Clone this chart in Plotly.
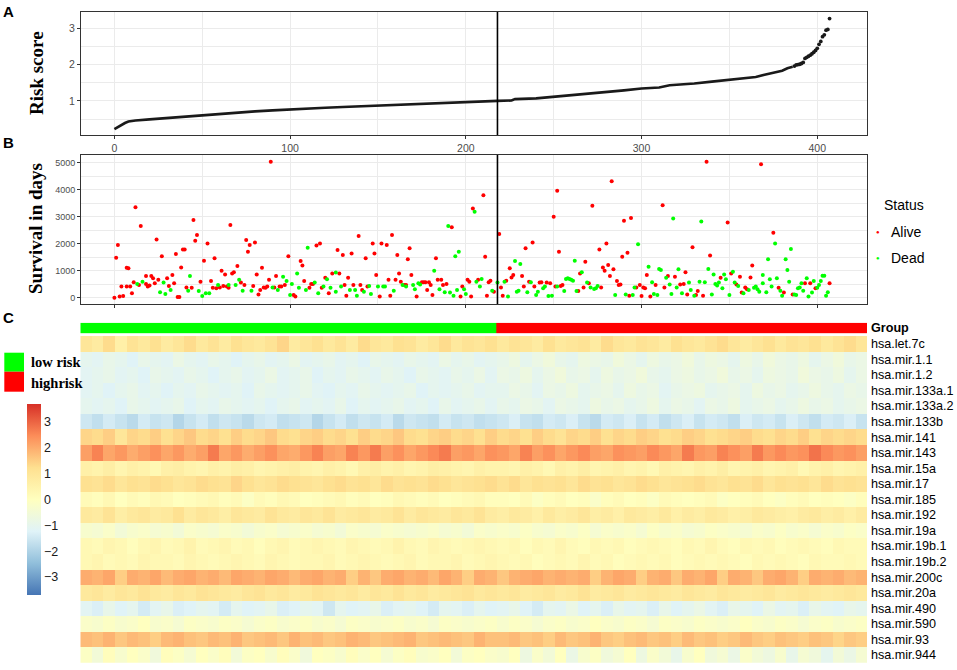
"""
Risk score / survival / miRNA heatmap panel (A, B, C) rebuilt in plotly.
"""

import plotly.graph_objects as go

W, H = 957, 670

# === A: sorted risk score ===
risk_idx = [0, 1, 2, 4, 6, 8, 10, 12, 20, 30, 40, 50, 60, 70, 80, 90, 100, 110, 120, 130,
            140, 150, 160, 170, 180, 190, 200, 210, 218, 226, 228, 240, 250, 260, 270, 280,
            290, 300, 310, 316, 320, 330, 340, 350, 355, 360, 365, 370, 375, 380, 383, 386]
risk_score = [0.22, 0.25, 0.28, 0.33, 0.39, 0.43, 0.45, 0.46, 0.49, 0.53, 0.57, 0.61, 0.65,
              0.68, 0.71, 0.74, 0.77, 0.79, 0.81, 0.83, 0.85, 0.87, 0.90, 0.92, 0.94, 0.96,
              0.98, 0.99, 1.00, 1.01, 1.05, 1.07, 1.11, 1.16, 1.21, 1.25, 1.29, 1.34, 1.37,
              1.43, 1.44, 1.48, 1.53, 1.59, 1.62, 1.63, 1.66, 1.72, 1.78, 1.83, 1.90, 1.94]
risk_tail_idx = [387, 388, 389, 390, 391, 392, 393, 394, 395, 396, 397, 398, 399, 400, 401,
                 402, 403, 404, 405, 406, 407]
risk_tail_score = [1.96, 1.99, 2.00, 2.01, 2.03, 2.06, 2.17, 2.20, 2.23, 2.26, 2.30, 2.34,
                   2.39, 2.45, 2.56, 2.64, 2.77, 2.82, 2.95, 2.97, 3.27]
cutoff = 218

# === B: survival time by status ===
alive_idx = [0, 1, 2, 3, 4, 5, 7, 7, 8, 9, 10, 11, 12, 14, 15, 18, 18, 19, 20, 21,
             22, 23, 24, 25, 27, 30, 31, 33, 34, 35, 36, 37, 38, 39, 40, 41, 44, 45, 46, 47,
             49, 51, 53, 55, 56, 57, 58, 60, 61, 62, 63, 64, 65, 66, 67, 68, 70, 72, 74, 75,
             76, 77, 79, 80, 81, 82, 83, 84, 85, 86, 87, 88, 89, 91, 92, 94, 95, 97, 99, 102,
             103, 106, 107, 108, 111, 112, 113, 115, 117, 118, 120, 122, 124, 127, 128, 130,
             131, 132, 133, 135, 136, 139, 140, 141, 143, 144, 147, 148, 149, 151, 152, 155,
             156, 157, 158, 160, 161, 162, 163, 165, 166, 167, 168, 169, 172, 175, 176, 177,
             178, 179, 180, 181, 183, 184, 186, 187, 189, 192, 197, 198, 201, 202, 203, 204,
             207,
             210, 211, 212, 213, 214, 216, 219, 220, 221, 223, 225, 226, 227, 232, 233, 234,
             236, 238, 239, 242, 243, 246, 248, 250, 251, 252, 253, 254, 255, 264, 265, 267,
             268, 270, 272, 276, 277, 278, 279, 280, 281, 282, 283, 284, 286, 287, 288, 289,
             290, 292, 293, 294, 297, 299, 300, 301, 302, 303, 305, 308, 312, 313, 315, 319,
             322, 324, 325, 326, 329, 331, 332, 335, 337, 339, 345, 349, 351, 354, 356, 357,
             359, 360, 362, 363, 368, 375, 378, 381, 386, 393, 396, 399, 407]
alive_days = [0, 1480, 1950, 40, 410, 60, 410, 1110, 1090, 410, 160, 570, 3350, 470, 2660,
              510, 800, 410, 450, 800, 720, 530, 2160, 660, 1540, 720, 430, 840, 530, 1620,
              20, 20, 1120, 1790, 1790, 380, 370, 2880, 2110, 2320, 590, 1370, 2010, 620, 370,
              1460, 350, 380, 1000, 430, 860, 410, 370, 2690, 900, 940, 1170, 560, 470, 2140,
              1700, 1950, 430, 2050, 860, 120, 280, 1110, 380, 370, 410, 660, 5040, 380, 800,
              410, 410, 470, 1540, 100, 40, 1360, 1190, 620, 370, 510, 510, 1930, 2010, 370,
              740, 160, 900, 1770, 900, 1580, 470, 70, 740, 1640, 470, 2290, 470, 280, 1460,
              410, 2010, 1640, 840, 40, 2010, 1950, 660, 70, 2320, 660, 1580, 900, 590, 470,
              470, 1420, 1830, 840, 40, 570, 570, 570, 280, 570, 470, 100, 1460, 660, 660,
              470, 510, 2610, 40, 410, 660, 590, 40, 3310, 660,
              3800, 1520, 70, 570, 630, 220, 2360, 380, 70, 630, 1090, 750, 840, 800, 410,
              1830, 590, 2050, 410, 560, 570, 560, 530, 3000, 410, 3960, 1700, 430, 470, 250,
              900, 380, 1330, 530, 3410, 1790, 380, 1120, 1000, 2010, 1210, 800, 4320, 1050,
              620, 470, 490, 1520, 2850, 1670, 70, 2950, 380, 470, 60, 380, 350, 840, 40, 470,
              3430, 380, 800, 780, 490, 510, 940, 120, 1870, 100, 250, 70, 5040, 1560, 740,
              2790, 900, 490, 780, 190, 380, 310, 750, 1190, 4950, 2410, 370, 190, 120, 530,
              530, 350, 530]
dead_idx = [13, 16, 26, 28, 29, 32, 42, 43, 48, 50, 52, 54, 59, 65, 69, 71, 73, 78, 90, 93,
            96, 98, 100, 101, 104, 105, 109, 110, 114, 116, 119, 121, 123, 126, 126, 129,
            134, 137, 138, 142, 145, 146, 150, 153, 154, 159, 164, 166, 170, 171, 173, 174,
            182, 185, 188, 190, 191, 193, 194, 195, 196, 199, 200, 205, 206, 208,
            209, 215, 218, 222, 224, 228, 229, 230, 231, 235, 237, 240, 241, 244, 245, 247,
            249, 252, 256, 257, 258, 259, 260, 261, 262, 263, 266, 269, 271, 273, 274, 275,
            285, 291, 295, 296, 298, 304, 306, 307, 309, 310, 311, 314, 316, 317, 318, 320,
            321, 323, 327, 328, 330, 333, 334, 336, 338, 340, 341, 342, 343, 344, 346, 347,
            348, 350, 352, 353, 355, 358, 361, 364, 365, 366, 367, 369, 369, 371, 372, 373,
            374, 376, 377, 379, 380, 382, 383, 384, 385, 387, 388, 389, 390, 391, 392, 394,
            395, 397, 398, 400, 401, 402, 403, 404, 405, 406]
dead_days = [510, 590, 200, 560, 140, 280, 260, 800, 250, 60, 160, 160, 470, 470, 470, 660,
             260, 260, 380, 280, 780, 620, 100, 510, 900, 370, 280, 1850, 560, 160, 410, 680,
             370, 220, 930, 410, 280, 280, 70, 220, 430, 140, 410, 410, 410, 260, 470, 410,
             470, 310, 530, 490, 1000, 310, 200, 2660, 190, 70, 1540, 280, 1700, 310, 140,
             3190, 590, 410,
             690, 260, 560, 590, 40, 1360, 220, 260, 1250, 200, 570, 100, 220, 350, 410, 60,
             70, 410, 250, 690, 720, 690, 660, 630, 1370, 250, 940, 560, 380, 320, 350, 430,
             100, 120, 100, 380, 1980, 1150, 570, 140, 100, 1060, 1030, 740, 490, 140, 2940,
             380, 1050, 160, 560, 280, 70, 590, 2820, 570, 1060, 120, 860, 510, 450, 560, 350,
             860, 680, 100, 960, 560, 430, 160, 280, 370, 410, 310, 220, 840, 530, 200, 1420,
             680, 410, 2010, 720, 260, 70, 1420, 1030, 590, 1800, 120, 100, 350, 380, 530,
             260, 720, 40, 190, 620, 370, 470, 620, 810, 810, 70, 200]

# === C: expression heatmap (each value = a block of 6 adjacent samples) ===
n_low = 216
n_high = 192
mirnas = ["hsa.let.7c", "hsa.mir.1.1", "hsa.mir.1.2", "hsa.mir.133a.1", "hsa.mir.133a.2",
          "hsa.mir.133b", "hsa.mir.141", "hsa.mir.143", "hsa.mir.15a", "hsa.mir.17",
          "hsa.mir.185", "hsa.mir.192", "hsa.mir.19a", "hsa.mir.19b.1", "hsa.mir.19b.2",
          "hsa.mir.200c", "hsa.mir.20a", "hsa.mir.490", "hsa.mir.590", "hsa.mir.93",
          "hsa.mir.944"]

let_7c = [1.0, .8, 1.3, .6, 1.1, .9, 1.2, .8, 1.0, 1.3, .9, 1.1, .8, 1.2, 1.0, .9, 1.1, 1.4,
          .8, 1.0, 1.2, .9, 1.1, .8, 1.3, 1.0, .9, 1.2, 1.1, .8, 1.0, 1.3, .9, 1.1, 1.0, 1.2,
          .9, 1.1, 1.0, .8, 1.2, .9, 1.0, 1.1, .8, 1.3, 1.0, .9, 1.1, 1.0, .8, 1.2, 1.0, .9,
          1.1, 1.3, 1.0, .8, 1.0, 1.2, .9, 1.1, 1.0, 1.2, .9, 1.1, 1.3, 1.0]
mir_1_1 = [-1.0, -1.1, -.9, -1.0, -1.2, -.9, -1.0, -1.1, -.8, -1.0, -1.1, -.9, -1.0, -1.2,
           -1.0, -.9, -1.1, -1.0, -.8, -1.1, -1.0, -.9, -1.1, -1.0, -1.2, -.9, -1.0, -1.1,
           -.9, -1.0, -1.1, -.8, -1.0, -.9, -1.1, -1.0,
           -.9, -.7, -1.0, -.8, -.6, -.9, -1.0, -.7, -.8, -.9, -.6, -.8, -1.0, -.7, -.9, -.8,
           -.6, -.9, -.7, -.8, -1.0, -.7, -.9, -.6, -.8, -.9, -.7, -1.0, -.8, -.6, -.9, -.8]
mir_1_2 = [-1.1, -1.0, -.9, -1.1, -1.0, -1.2, -.9, -1.0, -1.1, -.9, -1.0, -1.2, -1.0, -.9,
           -1.1, -1.0, -.8, -1.1, -1.0, -.9, -1.2, -1.0, -1.1, -.9, -1.0, -1.1, -.9, -1.0,
           -1.2, -.9, -1.0, -1.1, -.9, -1.0, -.8, -1.1,
           -.8, -.9, -.7, -1.0, -.8, -.6, -.9, -.8, -1.0, -.7, -.9, -.8, -.6, -.9, -1.0, -.8,
           -.7, -.9, -.8, -.6, -.9, -.8, -1.0, -.7, -.8, -.9, -.6, -.8, -.9, -.7, -1.0, -.8]
mir_133a_1 = [-1.1, -1.0, -1.2, -1.0, -.9, -1.1, -1.0, -1.2, -1.0, -1.1, -.9, -1.0, -1.1,
              -1.0, -1.2, -.9, -1.0, -1.1, -1.0, -.9, -1.1, -1.2, -1.0, -1.1, -.9, -1.0,
              -1.1, -1.0, -.9, -1.2, -1.0, -1.1, -1.0, -.9, -1.1, -1.0,
              -1.0, -.8, -.9, -1.1, -.8, -.9, -.7, -1.0, -.9, -.8, -1.0, -.7, -.9, -.8, -1.1,
              -.9, -.8, -.7, -1.0, -.9, -.8, -1.0, -.7, -.9, -.8, -1.0, -.9, -.7, -.9, -1.0,
              -.8, -.9]
mir_133a_2 = [-1.0, -1.1, -1.0, -1.2, -.9, -1.0, -1.1, -1.0, -.9, -1.2, -1.0, -1.1, -.9,
              -1.0, -1.1, -1.0, -1.2, -1.0, -.9, -1.1, -1.0, -1.1, -.9, -1.2, -1.0, -1.1,
              -1.0, -.9, -1.1, -1.0, -1.2, -.9, -1.1, -1.0, -.9, -1.1,
              -.9, -1.0, -.8, -.9, -1.1, -.8, -.9, -1.0, -.7, -.9, -.8, -1.0, -.9, -.7, -1.0,
              -.8, -.9, -1.1, -.8, -.9, -.7, -1.0, -.9, -.8, -1.0, -.9, -.7, -.9, -.8, -1.0,
              -.9, -.8]
mir_133b = [-1.5, -1.7, -1.4, -1.6, -1.8, -1.4, -1.6, -1.5, -1.9, -1.6, -1.4, -1.7, -1.5,
            -1.6, -1.8, -1.5, -1.4, -1.7, -1.6, -1.5, -1.9, -1.6, -1.4, -1.7, -1.5, -1.6,
            -1.4, -1.8, -1.5, -1.6, -1.7, -1.4, -1.6, -1.5, -1.7, -1.6,
            -1.5, -1.3, -1.6, -1.7, -1.4, -1.5, -1.3, -1.6, -1.8, -1.4, -1.5, -1.3, -1.6,
            -1.4, -1.7, -1.5, -1.3, -1.6, -1.4, -1.5, -1.7, -1.3, -1.5, -1.4, -1.6, -1.3,
            -1.5, -1.7, -1.4, -1.5, -1.3, -1.6]
mir_141 = [1.4, 1.3, 1.5, 1.0, 1.4, 1.3, 1.5, 1.2, 1.4, 1.6, 1.3, 1.4, 1.2, 1.5, 1.3, 1.4,
           1.6, 1.3, 1.2, 1.4, 1.5, 1.3, 1.4, 1.2, 1.5, 1.3, 1.4, 1.6, 1.3, 1.2, 1.4, 1.5,
           1.3, 1.4, 1.2, 1.5,
           1.3, 1.4, 1.2, 1.5, 1.3, 1.1, 1.4, 1.3, 1.5, 1.2, 1.4, 1.3, 1.5, 1.4, 1.2, 1.3,
           1.5, 1.4, 1.2, 1.3, 1.4, 1.5, 1.3, 1.2, 1.4, 1.3, 1.5, 1.2, 1.4, 1.3, 1.4, 1.3]
mir_143 = [2.2, 2.6, 2.1, 2.3, 2.0, 2.2, 2.4, 2.1, 2.3, 2.0, 2.2, 2.7, 2.1, 2.3, 2.0, 2.2,
           2.4, 2.1, 2.0, 2.3, 2.6, 2.2, 2.1, 2.6, 2.3, 2.7, 2.2, 2.4, 2.1, 2.3, 2.5, 2.7,
           2.2, 2.3, 2.1, 2.4,
           2.3, 2.1, 2.6, 2.2, 2.4, 2.1, 2.3, 2.5, 2.2, 2.1, 2.4, 2.3, 2.2, 2.5, 2.3, 2.1,
           2.7, 2.3, 2.2, 2.6, 2.4, 2.2, 2.7, 2.3, 2.5, 2.3, 2.4, 2.8, 2.5, 2.3, 2.4, 2.2]
mir_15a = [.6, .5, .7, .4, .6, .5, .3, .6, .7, .5, .4, .6, .5, .7, .6, .4, .5, .6, .7, .5,
           .4, .6, .5, .3, .6, .7, .5, .6, .4, .5, .7, .6, .5, .4, .6, .5,
           .5, .4, .6, .5, .3, .6, .5, .7, .4, .5, .6, .4, .5, .3, .6, .5, .4, .6, .5, .7,
           .4, .5, .6, .4, .5, .6, .3, .5, .6, .4, .5, .6]
mir_17 = [1.2, 1.1, 1.3, 1.0, 1.2, 1.1, 1.3, 1.2, 1.0, 1.1, 1.3, 1.2, 1.1, 1.4, 1.2, 1.0,
          1.1, 1.3, 1.2, 1.1, 1.0, 1.2, 1.3, 1.1, 1.2, 1.0, 1.3, 1.1, 1.2, 1.1, 1.3, 1.2,
          1.0, 1.1, 1.2, 1.3,
          1.1, 1.3, 1.0, 1.2, 1.1, 1.2, 1.0, 1.3, 1.1, 1.2, 1.0, 1.1, 1.3, 1.2, 1.0, 1.1,
          1.2, 1.3, 1.1, 1.0, 1.2, 1.1, 1.3, 1.0, 1.2, 1.1, 1.2, 1.0, 1.3, 1.1, 1.2, 1.1]
mir_185 = [.2, .1, .3, .0, .2, .1, .3, .2, .0, .1, .2, .3, .1, .2, -.1, .2, .1, .3, .2, .0,
           .1, .2, .3, .1, .2, .0, .1, .3, .2, .1, .2, .0, .1, .2, .3, .1,
           .1, .0, .2, -.1, .1, .2, .0, .1, -.2, .1, .2, .0, .1, -.1, .2, .1, .0, .1, .2,
           -.1, .0, .1, .2, .0, -.1, .1, .2, .0, .1, .0, -.1, .1]
mir_192 = [.9, .8, 1.1, .7, .9, 1.0, .8, .9, 1.2, .8, 1.0, .9, .7, 1.0, .9, .8, 1.1, .9,
           .8, 1.0, .9, 1.1, .8, .9, 1.0, .8, .9, 1.1, .8, 1.0, .9, .8, 1.0, .9, 1.1, .8,
           .7, .9, .8, .6, .9, .7, .8, 1.0, .7, .8, .6, .9, .8, .7, .9, .6, .8, .7, .9, .8,
           .6, .7, .9, .8, .7, .6, .8, .9, .7, .8, .6, .8]
mir_19a = [-.3, -.4, -.2, -.5, -.3, -.2, -.4, -.3, -.5, -.2, -.3, -.4, -.2, -.3, -.5, -.3,
           -.2, -.4, -.3, -.2, -.4, -.3, -.5, -.2, -.3, -.4, -.2, -.3, -.4, -.3, -.2, -.4,
           -.3, -.5, -.2, -.3,
           -.2, -.3, -.1, -.3, -.4, -.2, -.3, -.1, -.4, -.2, -.3, -.2, -.4, -.1, -.3, -.2,
           -.4, -.3, -.1, -.2, -.3, -.4, -.2, -.3, -.1, -.3, -.2, -.4, -.2, -.3, -.1, -.2]
mir_19b_1 = [.3, .2, .4, .3, .1, .3, .4, .2, .3, .5, .2, .3, .4, .2, .3, .1, .3, .4, .2,
             .3, .4, .3, .2, .4, .3, .2, .3, .5, .3, .2, .4, .3, .2, .3, .4, .3,
             .2, .3, .1, .3, .2, .4, .2, .1, .3, .2, .3, .1, .2, .3, .2, .1, .3, .2, .4,
             .2, .1, .3, .2, .3, .1, .2, .3, .2, .1, .3, .2, .2]
mir_19b_2 = [.3, .4, .2, .3, .2, .4, .3, .3, .2, .4, .3, .2, .3, .4, .3, .2, .4, .3, .2,
             .3, .3, .4, .2, .3, .4, .3, .2, .3, .4, .2, .3, .3, .4, .2, .3, .4,
             .3, .2, .3, .1, .2, .3, .2, .4, .2, .3, .1, .2, .3, .2, .3, .1, .2, .3, .2,
             .3, .2, .1, .3, .2, .3, .2, .1, .3, .2, .2, .3, .2]
mir_200c = [2.0, 1.9, 2.1, 1.5, 2.0, 1.9, 2.1, 1.8, 2.0, 2.1, 1.9, 2.0, 1.8, 2.1, 2.0, 1.9,
            2.1, 2.0, 1.8, 2.0, 2.1, 1.9, 2.0, 1.5, 1.9, 1.6, 2.0, 2.1, 1.9, 2.0, 1.8, 2.1,
            1.9, 1.5, 2.0, 1.9,
            1.6, 1.9, 2.0, 2.1, 1.9, 2.0, 1.9, 2.0, 1.5, 1.9, 2.1, 2.0, 1.5, 1.9, 2.0, 1.6,
            2.0, 1.9, 2.1, 1.5, 2.0, 1.9, 1.6, 2.0, 2.1, 1.9, 1.5, 2.0, 1.9, 2.0, 1.8, 1.9]
mir_20a = [.9, 1.0, .8, 1.0, .9, 1.1, .9, .8, 1.0, .9, 1.1, 1.0, .9, .8, 1.0, 1.1, .9, 1.0,
           .8, .9, 1.1, 1.0, .9, 1.0, .8, 1.0, .9, 1.1, .9, 1.0, .8, .9, 1.0, 1.1, .9, 1.0,
           .9, 1.0, .8, .9, 1.0, .8, .9, 1.1, .8, .9, 1.0, .8, .9, 1.0, .9, .8, 1.0, .9, .8,
           1.0, .9, .8, .9, 1.0, .8, .9, 1.0, .9, .8, .9, 1.0, .9]
mir_490 = [-1.1, -1.3, -.9, -1.2, -1.0, -1.4, -1.1, -.9, -1.3, -1.2, -1.0, -1.1, -1.4, -1.0,
           -1.2, -1.1, -.9, -1.3, -1.2, -1.0, -1.1, -1.5, -1.0, -1.2, -1.1, -.9, -1.3, -1.1,
           -1.0, -1.2, -1.4, -1.0, -1.1, -1.3, -1.0, -1.2,
           -1.1, -.9, -1.2, -1.4, -1.0, -1.1, -.8, -1.2, -1.0, -1.3, -.9, -1.1, -1.0, -1.3,
           -.9, -1.2, -1.0, -.8, -1.1, -1.3, -.9, -1.0, -1.2, -.8, -1.1, -1.0, -1.3, -.9,
           -1.1, -1.2, -.9, -1.0]
mir_590 = [-.2, -.3, -.1, -.3, -.2, .0, -.3, -.2, -.4, -.1, -.2, -.3, -.1, -.2, -.4, -.2,
           -.1, -.3, -.2, -.1, -.3, -.2, -.4, -.1, -.2, -.3, -.2, -.1, -.3, -.2, -.4, -.1,
           -.2, -.3, -.2, -.1,
           -.3, -.1, -.2, -.4, -.2, -.1, -.3, -.2, .0, -.2, -.3, -.1, -.2, -.4, -.1, -.2,
           -.3, -.1, -.2, -.3, -.2, .0, -.2, -.3, -.1, -.2, -.4, -.2, -.1, -.3, -.2, -.1]
mir_93 = [1.8, 1.7, 1.9, 1.6, 1.8, 1.7, 1.5, 1.8, 1.9, 1.7, 1.6, 1.8, 1.7, 1.9, 1.6, 1.7,
          1.8, 1.6, 1.9, 1.7, 1.8, 1.6, 1.7, 1.9, 1.8, 1.6, 1.7, 1.8, 1.9, 1.6, 1.7, 1.8,
          1.7, 1.6, 1.9, 1.7,
          1.7, 1.8, 1.6, 1.7, 1.5, 1.8, 1.6, 1.7, 1.9, 1.6, 1.5, 1.7, 1.8, 1.6, 1.7, 1.5,
          1.8, 1.6, 1.7, 1.5, 1.6, 1.8, 1.6, 1.5, 1.7, 1.6, 1.5, 1.7, 1.6, 1.4, 1.6, 1.5]
mir_944 = [-.1, -.5, .1, -.3, .0, -.2, -.6, .1, -.1, -.4, .0, -.2, .1, -.5, -.1, .0, -.3,
           .1, -.2, -.6, .0, -.1, -.3, .1, -.2, .0, -.4, -.1, .1, -.3, -.2, .0, -.5, -.1,
           .0, -.2,
           -.3, .0, -.7, -.2, -.5, .0, -.8, -.3, -.1, -.6, -.4, .0, -.7, -.2, -.5, -.9, -.3,
           .0, -.6, -.4, -.8, -.2, -.5, -.7, -.3, -.9, -.4, -.6, -1.0, -.5, -.8, -.4]

expr = [let_7c, mir_1_1, mir_1_2, mir_133a_1, mir_133a_2, mir_133b, mir_141, mir_143,
        mir_15a, mir_17, mir_185, mir_192, mir_19a, mir_19b_1, mir_19b_2, mir_200c,
        mir_20a, mir_490, mir_590, mir_93, mir_944]


def px(x):
    return x / W


def py(y):
    return 1 - y / H


SANS = "Liberation Sans, Arial, sans-serif"
SERIF = "Liberation Serif, Times New Roman, serif"
GRID = "#EBEBEB"
ALIVE = "#FF0000"
DEAD = "#00FF00"
RDYLBU = [[0.0, "#4575B4"], [1 / 6, "#91BFDB"], [2 / 6, "#E0F3F8"], [3 / 6, "#FFFFBF"],
          [4 / 6, "#FEE090"], [5 / 6, "#FC8D59"], [1.0, "#D73027"]]

n_total = n_low + n_high
block = n_total / len(let_7c)

fig = go.Figure()

# === A ===
fig.add_trace(go.Scatter(
    x=risk_idx, y=risk_score, mode="lines",
    line=dict(color="#1A1A1A", width=2.6),
    xaxis="x", yaxis="y",
))
fig.add_trace(go.Scatter(
    x=risk_tail_idx, y=risk_tail_score, mode="markers",
    marker=dict(color="#1A1A1A", size=3.8),
    xaxis="x", yaxis="y",
))

# === B ===
fig.add_trace(go.Scatter(
    x=alive_idx, y=alive_days, mode="markers", name="Alive",
    marker=dict(color=ALIVE, size=4),
    xaxis="x2", yaxis="y2",
))
fig.add_trace(go.Scatter(
    x=dead_idx, y=dead_days, mode="markers", name="Dead",
    marker=dict(color=DEAD, size=4),
    xaxis="x2", yaxis="y2",
))

# === C: group bar + heatmap ===
fig.add_trace(go.Heatmap(
    z=[[0, 1]], x=[0.5, n_low + 0.5, n_total + 0.5], y=["Group"],
    colorscale=[[0, DEAD], [1, ALIVE]], showscale=False,
    hoverinfo="skip", xaxis="x3", yaxis="y4",
))
fig.add_trace(go.Heatmap(
    z=expr, x0=0.5 + block / 2, dx=block, y=mirnas,
    colorscale=RDYLBU, zmin=-3.67, zmax=3.69,
    colorbar=dict(
        x=px(27.3), xanchor="left", xpad=0,
        y=py(403.5), yanchor="top", ypad=0,
        len=191, lenmode="pixels", thickness=14,
        outlinewidth=0, ticks="", tickvals=[-3, -2, -1, 0, 1, 2, 3],
        tickfont=dict(family=SANS, size=12.5, color="#1A1A1A"),
    ),
    xaxis="x3", yaxis="y3",
))

# === vertical cutoff lines ===
for xr, yr in (("x", "y domain"), ("x2", "y2 domain")):
    fig.add_shape(type="line", xref=xr, yref=yr, x0=cutoff, x1=cutoff, y0=0, y1=1,
                  line=dict(color="black", width=1.6))

# === left group legend ===
fig.add_shape(type="rect", xref="paper", yref="paper", x0=px(4.3), x1=px(24),
              y0=py(371.7), y1=py(352.7), fillcolor=DEAD, line=dict(width=0))
fig.add_shape(type="rect", xref="paper", yref="paper", x0=px(4.3), x1=px(24),
              y0=py(391.7), y1=py(371.7), fillcolor=ALIVE, line=dict(width=0))

ann = []
for txt, y in (("A", 11.5), ("B", 142.5), ("C", 317)):
    ann.append(dict(text=f"<b>{txt}</b>", x=px(8.5), y=py(y), xanchor="center",
                    yanchor="middle", font=dict(family=SANS, size=15, color="black")))
ann.append(dict(text="<b>Risk score</b>", x=px(37), y=py(73), textangle=-90,
                xanchor="center", yanchor="middle",
                font=dict(family=SERIF, size=19, color="black")))
ann.append(dict(text="<b>Survival in days</b>", x=px(35), y=py(229), textangle=-90,
                xanchor="center", yanchor="middle",
                font=dict(family=SERIF, size=19, color="black")))
# status legend (ggplot-style, key dot close to the label)
ann.append(dict(text="Status", x=px(882), y=py(205), xanchor="left", yanchor="middle",
                font=dict(family=SANS, size=14, color="black")))
for name, col, y in (("Alive", ALIVE, 231.7), ("Dead", DEAD, 258.3)):
    ann.append(dict(text="●", x=px(877.7), y=py(y), xanchor="center", yanchor="middle",
                    font=dict(family=SANS, size=6, color=col)))
    ann.append(dict(text=name, x=px(888.5), y=py(y), xanchor="left", yanchor="middle",
                    font=dict(family=SANS, size=14, color="black")))
ann.append(dict(text="<b>low risk</b>", x=px(28.5), y=py(362.5), xanchor="left",
                yanchor="middle", font=dict(family=SERIF, size=14.5, color="black")))
ann.append(dict(text="<b>highrisk</b>", x=px(28.5), y=py(382.5), xanchor="left",
                yanchor="middle", font=dict(family=SERIF, size=14.5, color="black")))
for a in ann:
    a.update(xref="paper", yref="paper", showarrow=False)

tick_line = dict(ticks="outside", ticklen=3, tickcolor="#333333", tickwidth=1,
                 showline=True, mirror=True, linecolor="#333333", linewidth=1,
                 zeroline=False, automargin=False)

x_dom = [px(81), px(867)]
fig.update_layout(
    width=W, height=H,
    margin=dict(l=0, r=0, t=0, b=0),
    paper_bgcolor="white", plot_bgcolor="white",
    annotations=ann,
    showlegend=False,
    xaxis=dict(domain=x_dom, anchor="y", range=[-19, 428.3],
               tickvals=[0, 100, 200, 300, 400],
               showgrid=True, gridcolor=GRID, gridwidth=1.2,
               minor=dict(dtick=50, tick0=0, showgrid=True, gridcolor=GRID, gridwidth=0.6),
               tickfont=dict(family=SANS, size=10.5, color="#4D4D4D"), **tick_line),
    yaxis=dict(domain=[py(135), py(12)], anchor="x", range=[0.06, 3.45],
               tickvals=[1, 2, 3],
               showgrid=True, gridcolor=GRID, gridwidth=1.2,
               minor=dict(dtick=0.5, tick0=0, showgrid=True, gridcolor=GRID, gridwidth=0.6),
               tickfont=dict(family=SANS, size=10.5, color="#4D4D4D"), **tick_line),
    xaxis2=dict(domain=x_dom, anchor="y2", range=[-19, 428.3],
                tickvals=[0, 100, 200, 300, 400], showticklabels=False,
                showgrid=True, gridcolor=GRID, gridwidth=1.2,
                minor=dict(dtick=50, tick0=0, showgrid=True, gridcolor=GRID, gridwidth=0.6),
                **tick_line),
    yaxis2=dict(domain=[py(304), py(155)], anchor="x2", range=[-235, 5290],
                tickvals=[0, 1000, 2000, 3000, 4000, 5000],
                showgrid=True, gridcolor=GRID, gridwidth=1.2,
                minor=dict(dtick=500, tick0=0, showgrid=True, gridcolor=GRID, gridwidth=0.6),
                tickfont=dict(family=SANS, size=9, color="#4D4D4D"), **tick_line),
    xaxis3=dict(domain=[px(80.3), px(867)], anchor="y3", range=[0.5, n_total + 0.5],
                visible=False, automargin=False),
    yaxis3=dict(domain=[py(662.7), py(336)], anchor="x3", side="right",
                autorange="reversed", type="category", ticks="", ticklen=0,
                showgrid=False, zeroline=False, showline=False, automargin=False,
                ticklabelstandoff=3,
                tickfont=dict(family=SANS, size=12.6, color="black")),
    yaxis4=dict(domain=[py(333.3), py(322.7)], anchor="x3", side="right",
                type="category", ticks="", ticklen=0, showgrid=False, zeroline=False,
                showline=False, automargin=False, ticklabelstandoff=3,
                tickvals=["Group"], ticktext=["<b>Group</b>"],
                tickfont=dict(family=SANS, size=12.6, color="black")),
)

# the page body keeps its default 8px margin otherwise, shifting the figure
fig.write_html("out.html", config={"displayModeBar": False},
               post_script="document.body.style.margin = '0px';")
